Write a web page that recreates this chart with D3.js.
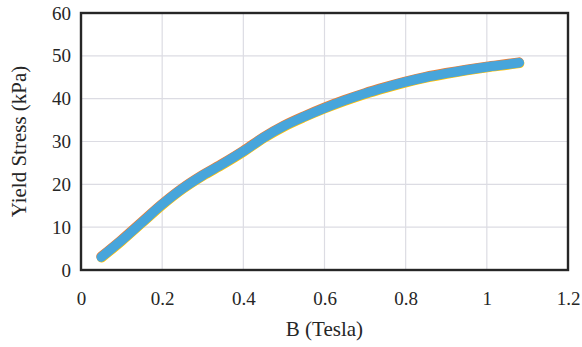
<!DOCTYPE html>
<html>
<head>
<meta charset="utf-8">
<script src="https://cdn.jsdelivr.net/npm/d3@7"></script>
<style>
  body { margin: 0; background: #fff; }
  svg text { font-family: "Liberation Serif", "Times New Roman", serif !important; fill: #262626; }
</style>
</head>
<body>
<div id="chart"></div>
<script>
const fieldTesla = [0.05, 0.1, 0.15, 0.2, 0.25, 0.3, 0.35, 0.4, 0.45, 0.5, 0.55,
  0.6, 0.65, 0.7, 0.75, 0.8, 0.85, 0.9, 0.95, 1.0, 1.05, 1.08];
const yieldStress = [3.0, 6.9, 11.1, 15.3, 19.0, 22.1, 24.8, 27.7, 30.9, 33.6, 35.8,
  37.8, 39.6, 41.2, 42.6, 43.9, 45.0, 45.9, 46.7, 47.4, 48.0, 48.4];
const xTicks = [0, 0.2, 0.4, 0.6, 0.8, 1, 1.2];
const yTicks = [0, 10, 20, 30, 40, 50, 60];

const width = 582, height = 347;
const margin = {top: 13, right: 14, bottom: 77, left: 81};
const w = width - margin.left - margin.right;
const h = height - margin.top - margin.bottom;

const svg = d3.select('#chart').append('svg')
  .attr('width', width)
  .attr('height', height);

const g = svg.append('g')
  .attr('transform', `translate(${margin.left},${margin.top})`);

const x = d3.scaleLinear().domain([0, 1.2]).range([0, w]);
const y = d3.scaleLinear().domain([0, 60]).range([h, 0]);

// gridlines
g.append('g').selectAll('line')
  .data(xTicks.slice(1, -1)).enter().append('line')
  .attr('x1', d => x(d)).attr('x2', d => x(d))
  .attr('y1', 0).attr('y2', h)
  .attr('stroke', '#dcdce3').attr('stroke-width', 1.2);
g.append('g').selectAll('line')
  .data(yTicks.slice(1, -1)).enter().append('line')
  .attr('x1', 0).attr('x2', w)
  .attr('y1', d => y(d)).attr('y2', d => y(d))
  .attr('stroke', '#dcdce3').attr('stroke-width', 1.2);

// axes (labels only, frame drawn separately)
const xAxis = g.append('g')
  .attr('transform', `translate(0,${h})`)
  .call(d3.axisBottom(x).tickValues(xTicks).tickSize(0).tickPadding(22)
    .tickFormat(d => String(d)));
const yAxis = g.append('g')
  .call(d3.axisLeft(y).tickValues(yTicks).tickSize(0).tickPadding(10));
[xAxis, yAxis].forEach(a => {
  a.attr('font-family', null).attr('font-size', null);
  a.select('.domain').remove();
  a.selectAll('text')
    .style('font-size', '19px')
    .attr('fill', '#262626');
});

// frame
g.append('rect')
  .attr('x', 0).attr('y', 0).attr('width', w).attr('height', h)
  .attr('fill', 'none').attr('stroke', '#262626').attr('stroke-width', 2.4);

// the curve: overlapping series in excel style
const pts = fieldTesla.map((v, i) => [v, yieldStress[i]]);
const line = d3.line().x(d => x(d[0])).y(d => y(d[1])).curve(d3.curveCatmullRom.alpha(0.5));
const layers = [
  {color: '#ed7d31', dx: -0.3, dy: -0.6},
  {color: '#ffc000', dx: 0.3, dy: 0.6},
  {color: '#47a5db', dx: 0, dy: 0}
];
layers.forEach(l => {
  g.append('path')
    .datum(pts)
    .attr('transform', `translate(${l.dx},${l.dy})`)
    .attr('d', line)
    .attr('fill', 'none')
    .attr('stroke', l.color)
    .attr('stroke-width', 9.5)
    .attr('stroke-linecap', 'round')
    .attr('stroke-linejoin', 'round');
});

// titles
svg.append('text')
  .attr('x', margin.left + w / 2).attr('y', 336)
  .attr('text-anchor', 'middle')
  .style('font-size', '21px')
  .text('B (Tesla)');
svg.append('text')
  .attr('transform', `translate(26,${margin.top + h / 2}) rotate(-90)`)
  .attr('text-anchor', 'middle')
  .style('font-size', '21px')
  .text('Yield Stress (kPa)');
</script>
</body>
</html>
